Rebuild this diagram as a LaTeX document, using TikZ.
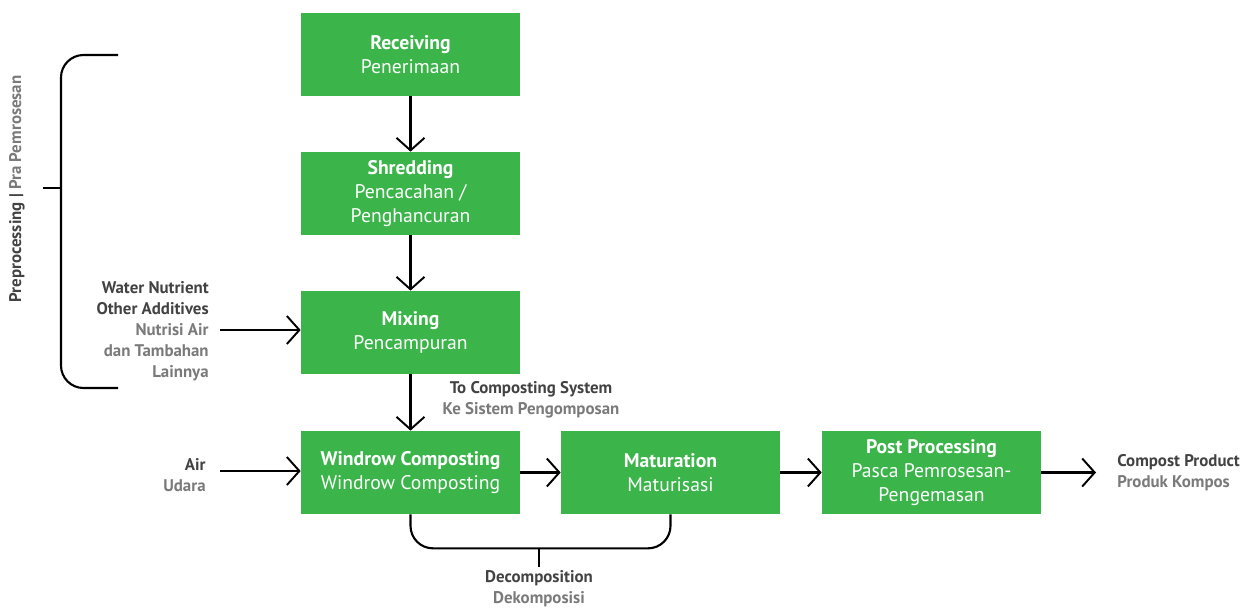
\documentclass[tikz,border=0pt]{standalone}
\usepackage{fontspec}
\setmainfont{PT Sans}
\usetikzlibrary{arrows.meta}
\definecolor{compgreen}{HTML}{3BB54A}
\definecolor{labdark}{HTML}{424242}
\definecolor{labgrey}{HTML}{7A7A7A}
\tikzset{
  stage/.style={fill=compgreen,text=white,align=center,inner sep=0pt,
    minimum width=4.38cm,minimum height=1.66cm,font=\fontsize{11.2}{13.6}\selectfont},
  flow/.style={line width=1.2pt,-{Straight Barb[length=2.5mm,width=5.6mm,line width=1.1pt]}},
  bar/.style={line width=1.2pt,rounded corners=0.45cm},
  sidelab/.style={align=#1,inner sep=0pt,font=\fontsize{9.6}{11.9}\selectfont},
  sidelab/.default=center
}
\newcommand{\dk}[1]{\textcolor{labdark}{\textbf{#1}}}
\newcommand{\gr}[1]{\textcolor{labgrey}{\textbf{#1}}}
\begin{document}
\begin{tikzpicture}[x=0.02cm,y=-0.02cm]
\useasboundingbox (0,0) rectangle (1244,609);
% stages
\node[stage] (recv) at (410.5,54.5) {\textbf{Receiving}\\Penerimaan};
\node[stage] (shred) at (410.5,193.5) {\textbf{Shredding}\\Pencacahan /\\Penghancuran};
\node[stage] (mix) at (410.5,332.5) {\textbf{Mixing}\\Pencampuran};
\node[stage] (windrow) at (410.5,472.5) {\textbf{Windrow Composting}\\Windrow Composting};
\node[stage] (matur) at (670.5,472.5) {\textbf{Maturation}\\Maturisasi};
\node[stage] (post) at (931.5,472.5) {\textbf{Post Processing}\\Pasca Pemrosesan-\\Pengemasan};
% side labels
\node[sidelab=right,anchor=east] (water) at (209,331) {\dk{Water Nutrient}\\\dk{Other Additives}\\\gr{Nutrisi Air}\\\gr{dan Tambahan}\\\gr{Lainnya}};
\node[sidelab=right,anchor=east] (air) at (206,475) {\dk{Air}\\\gr{Udara}};
\node[sidelab=left,anchor=west] (product) at (1117,472.5) {\dk{Compost Product}\\\gr{Produk Kompos}};
\node[sidelab] (tosys) at (531,399.5) {\dk{To Composting System}\\\gr{Ke Sistem Pengomposan}};
\node[sidelab] (decomp) at (539,589) {\dk{Decomposition}\\\gr{Dekomposisi}};
\node[sidelab,rotate=90] (prepro) at (17,189) {\dk{Preprocessing | }\gr{Pra Pemrosesan}};
% free ends
\coordinate (waterin) at (220,330);
\coordinate (airin) at (220,471);
\coordinate (prodout) at (1096,472.5);
% flows
\draw[flow] (recv) -- (shred);
\draw[flow] (shred) -- (mix);
\draw[flow] (mix) -- (windrow);
\draw[flow] (windrow) -- (matur);
\draw[flow] (matur) -- (post);
\draw[flow] (post) -- (prodout);
\draw[flow] (waterin) -- (mix.west|-waterin);
\draw[flow] (airin) -- (windrow.west|-airin);
% brackets
\draw[bar] (118,55) -| (61,388) -- (118,388);
\draw[line width=1.2pt] (43,188) -- (61,188);
\draw[bar] (windrow.south) -- ++(0,34) -| (matur.south);
\draw[line width=1.2pt] (539,548) -- (539,567);
\end{tikzpicture}
\end{document}
